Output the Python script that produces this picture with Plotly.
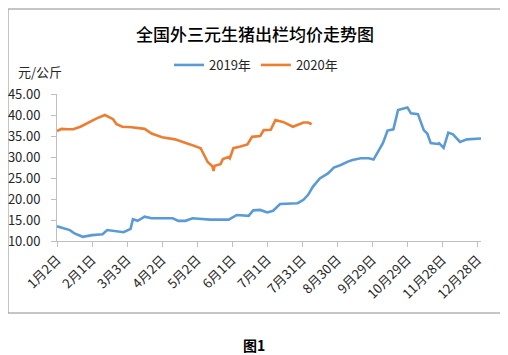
import plotly.graph_objects as go

# ---------------- data ----------------
# both years are drawn on the same month/day axis (calendar of 2019)
dates_2019 = [
    "2019-01-02", "2019-01-13", "2019-01-17", "2019-01-24", "2019-02-01", "2019-02-10",
    "2019-02-14", "2019-02-21", "2019-02-28", "2019-03-06", "2019-03-08", "2019-03-12",
    "2019-03-18", "2019-03-24", "2019-04-11", "2019-04-16", "2019-04-22", "2019-04-28",
    "2019-05-13", "2019-05-29", "2019-06-05", "2019-06-15", "2019-06-19", "2019-06-25",
    "2019-07-01", "2019-07-06", "2019-07-12", "2019-07-27", "2019-08-01", "2019-08-05",
    "2019-08-09", "2019-08-15", "2019-08-22", "2019-08-27", "2019-09-02", "2019-09-08",
    "2019-09-12", "2019-09-19", "2019-09-26", "2019-09-30", "2019-10-08", "2019-10-12",
    "2019-10-17", "2019-10-21", "2019-10-29", "2019-11-01", "2019-11-07", "2019-11-12",
    "2019-11-15", "2019-11-18", "2019-11-24", "2019-11-25", "2019-11-29", "2019-12-03",
    "2019-12-07", "2019-12-13", "2019-12-19", "2019-12-31",
]
price_2019 = [
    13.5, 12.6, 11.8, 11.0, 11.4, 11.6,
    12.6, 12.4, 12.1, 12.9, 15.2, 14.8,
    15.8, 15.4, 15.4, 14.8, 14.8, 15.4,
    15.1, 15.1, 16.2, 16.0, 17.3, 17.4,
    16.8, 17.2, 18.8, 19.0, 19.8, 21.0,
    22.9, 24.9, 26.1, 27.5, 28.1, 28.9,
    29.3, 29.7, 29.7, 29.4, 33.3, 36.3,
    36.6, 41.2, 41.8, 40.4, 40.2, 36.4,
    35.6, 33.3, 33.1, 33.3, 32.2, 35.8,
    35.4, 33.6, 34.2, 34.4,
]

dates_2020 = [
    "2019-01-02", "2019-01-06", "2019-01-11", "2019-01-16", "2019-01-22", "2019-01-29",
    "2019-02-05", "2019-02-12", "2019-02-19", "2019-02-22", "2019-02-27", "2019-03-07",
    "2019-03-18", "2019-03-24", "2019-04-02", "2019-04-13", "2019-04-20", "2019-04-26",
    "2019-05-05", "2019-05-09", "2019-05-11", "2019-05-15", "2019-05-16", "2019-05-17",
    "2019-05-22", "2019-05-24", "2019-05-29", "2019-05-30", "2019-06-02", "2019-06-08",
    "2019-06-14", "2019-06-18", "2019-06-25", "2019-06-28", "2019-07-04", "2019-07-08",
    "2019-07-15", "2019-07-23", "2019-08-01", "2019-08-05", "2019-08-08",
]
price_2020 = [
    36.2, 36.7, 36.6, 36.6, 37.2, 38.3,
    39.2, 40.0, 39.0, 37.8, 37.2, 37.1,
    36.7, 35.6, 34.7, 34.2, 33.6, 33.0,
    32.1, 30.0, 28.8, 27.8, 26.7, 27.9,
    28.3, 29.5, 30.0, 29.7, 32.1, 32.5,
    33.0, 34.8, 35.0, 36.4, 36.5, 38.8,
    38.3, 37.2, 38.2, 38.2, 37.8,
]

tick_dates = [
    "2019-01-02", "2019-02-01", "2019-03-03", "2019-04-02", "2019-05-02", "2019-06-01",
    "2019-07-01", "2019-07-31", "2019-08-30", "2019-09-29", "2019-10-29", "2019-11-28",
    "2019-12-28",
]
tick_labels = [
    "1月2日", "2月1日", "3月3日", "4月2日", "5月2日", "6月1日", "7月1日", "7月31日",
    "8月30日", "9月29日", "10月29日", "11月28日", "12月28日",
]
y_ticks = [10, 15, 20, 25, 30, 35, 40, 45]

# ---------------- layout helpers ----------------
# the page body has an 8px default margin, so the figure is drawn 8px in
OFF = 8
W, H = 508 - OFF, 355 - OFF
L, R, T, B = 57 - OFF, 27, 94 - OFF, 114
PW, PH = W - L - R, H - T - B
FONT = "Noto Sans CJK SC, Noto Sans, sans-serif"


def px(x):
    """page pixel x -> paper fraction"""
    return (x - OFF - L) / PW


def py(y):
    """page pixel y (from top) -> paper fraction"""
    return (H - B - (y - OFF)) / PH


fig = go.Figure()
fig.add_trace(go.Scatter(
    x=dates_2019, y=price_2019, mode="lines", name="2019年",
    line=dict(color="#5B9BD5", width=2.6, shape="linear"),
))
fig.add_trace(go.Scatter(
    x=dates_2020, y=price_2020, mode="lines", name="2020年",
    line=dict(color="#ED7D31", width=2.6, shape="linear"),
))

fig.update_layout(
    width=W, height=H,
    margin=dict(l=L, r=R, t=T, b=B, pad=0, autoexpand=False),
    paper_bgcolor="white", plot_bgcolor="white",
    font=dict(family=FONT, size=13, color="#262626"),
    showlegend=True,
    legend=dict(
        orientation="h", x=px(256), y=py(65), xanchor="center", yanchor="middle",
        font=dict(size=13, color="#262626"), bgcolor="rgba(0,0,0,0)",
        itemwidth=30, tracegroupgap=0,
    ),
    xaxis=dict(
        type="date", range=["2019-01-02", "2019-12-31"],
        tickmode="array", tickvals=tick_dates, ticktext=tick_labels,
        tickangle=-45, tickfont=dict(size=13, color="#262626"),
        showgrid=False, zeroline=False, automargin=False,
        showline=True, linecolor="#BFBFBF", linewidth=1,
        ticks="outside", ticklen=5, tickcolor="#BFBFBF",
    ),
    yaxis=dict(
        range=[10, 45], tickmode="array", tickvals=y_ticks,
        tickformat=".2f", tickfont=dict(size=13, color="#262626"),
        showgrid=False, zeroline=False, automargin=False,
        showline=True, linecolor="#BFBFBF", linewidth=1,
        ticks="outside", ticklen=5, tickcolor="#BFBFBF",
        ticklabelstandoff=8,
    ),
    shapes=[dict(
        type="rect", xref="paper", yref="paper",
        x0=px(8), x1=px(502), y0=py(313), y1=py(9),
        line=dict(color="#8C8C8C", width=1), layer="below",
    )],
    annotations=[
        dict(text="全国外三元生猪出栏均价走势图", xref="paper", yref="paper",
             x=px(255), y=py(33), xanchor="center", yanchor="middle", showarrow=False,
             font=dict(size=17, color="#000000", family=FONT, weight=500)),
        dict(text="元/公斤", xref="paper", yref="paper",
             x=px(16), y=py(71), xanchor="left", yanchor="middle", showarrow=False,
             font=dict(size=13, color="#262626", family=FONT)),
        dict(text="<b>图1</b>", xref="paper", yref="paper",
             x=px(254), y=py(345), xanchor="center", yanchor="middle", showarrow=False,
             font=dict(size=14, color="#000000", family=FONT)),
    ],
)

fig.write_html("out.html")
